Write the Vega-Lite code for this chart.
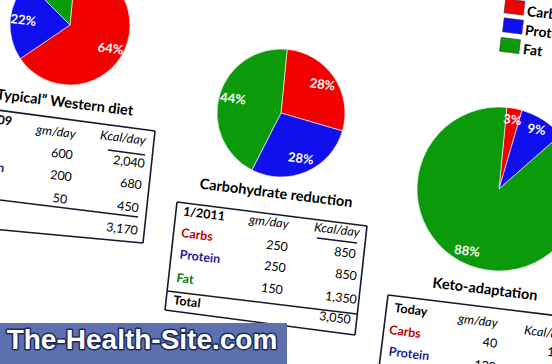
{
  "$schema": "https://vega.github.io/schema/vega-lite/v6.json",
  "width": 552,
  "height": 364,
  "autosize": {"type": "fit", "contains": "padding"},
  "padding": 0,
  "background": "#ffffff",
  "config": {"view": {"stroke": null}, "font": "Lato"},
  "resolve": {"scale": {"color": "independent"}},
  "datasets": {
    "pies": [
      {"diet": "Western", "macro": "Carbs", "pct": 64, "order": 1, "label": "64%"},
      {"diet": "Western", "macro": "Protein", "pct": 22, "order": 2, "label": "22%"},
      {"diet": "Western", "macro": "Fat", "pct": 14, "order": 3, "label": "14%"},
      {"diet": "Reduction", "macro": "Carbs", "pct": 28, "order": 1, "label": "28%"},
      {"diet": "Reduction", "macro": "Protein", "pct": 28, "order": 2, "label": "28%"},
      {"diet": "Reduction", "macro": "Fat", "pct": 44, "order": 3, "label": "44%"},
      {"diet": "Keto", "macro": "Carbs", "pct": 3, "order": 1, "label": "3%"},
      {"diet": "Keto", "macro": "Protein", "pct": 9, "order": 2, "label": "9%"},
      {"diet": "Keto", "macro": "Fat", "pct": 88, "order": 3, "label": "88%"}
    ],
    "cells": [
      {"table": "Western", "kind": "head", "text": "1/2009", "x": -9, "y": 119},
      {"table": "Western", "kind": "unit", "text": "gm/day", "x": 56, "y": 132},
      {"table": "Western", "kind": "unit", "text": "Kcal/day", "x": 123, "y": 138},
      {"table": "Western", "kind": "label", "macro": "Carbs", "text": "Carbs", "x": -22, "y": 146},
      {"table": "Western", "kind": "num", "text": "600", "x": 62, "y": 154},
      {"table": "Western", "kind": "num", "text": "2,040", "x": 129, "y": 162},
      {"table": "Western", "kind": "label", "macro": "Protein", "text": "Protein", "x": -16, "y": 166},
      {"table": "Western", "kind": "num", "text": "200", "x": 61, "y": 176},
      {"table": "Western", "kind": "num", "text": "680", "x": 131, "y": 184},
      {"table": "Western", "kind": "label", "macro": "Fat", "text": "Fat", "x": -25, "y": 188},
      {"table": "Western", "kind": "num", "text": "50", "x": 60, "y": 199},
      {"table": "Western", "kind": "num", "text": "450", "x": 128, "y": 207},
      {"table": "Western", "kind": "head", "text": "Total", "x": -30, "y": 211},
      {"table": "Western", "kind": "num", "text": "3,170", "x": 122, "y": 229},
      {"table": "Reduction", "kind": "head", "text": "1/2011", "x": 204, "y": 214},
      {"table": "Reduction", "kind": "unit", "text": "gm/day", "x": 269, "y": 222},
      {"table": "Reduction", "kind": "unit", "text": "Kcal/day", "x": 337, "y": 230},
      {"table": "Reduction", "kind": "label", "macro": "Carbs", "text": "Carbs", "x": 197, "y": 235},
      {"table": "Reduction", "kind": "num", "text": "250", "x": 277, "y": 246},
      {"table": "Reduction", "kind": "num", "text": "850", "x": 345, "y": 253},
      {"table": "Reduction", "kind": "label", "macro": "Protein", "text": "Protein", "x": 200, "y": 257},
      {"table": "Reduction", "kind": "num", "text": "250", "x": 275, "y": 267},
      {"table": "Reduction", "kind": "num", "text": "850", "x": 346, "y": 275},
      {"table": "Reduction", "kind": "label", "macro": "Fat", "text": "Fat", "x": 185, "y": 279},
      {"table": "Reduction", "kind": "num", "text": "150", "x": 272, "y": 289},
      {"table": "Reduction", "kind": "num", "text": "1,350", "x": 341, "y": 298},
      {"table": "Reduction", "kind": "head", "text": "Total", "x": 187, "y": 302},
      {"table": "Reduction", "kind": "num", "text": "3,050", "x": 335, "y": 318},
      {"table": "Keto", "kind": "head", "text": "Today", "x": 411, "y": 310},
      {"table": "Keto", "kind": "unit", "text": "gm/day", "x": 478, "y": 321},
      {"table": "Keto", "kind": "unit", "text": "Kcal/day", "x": 547, "y": 333},
      {"table": "Keto", "kind": "label", "macro": "Carbs", "text": "Carbs", "x": 405, "y": 332},
      {"table": "Keto", "kind": "num", "text": "40", "x": 490, "y": 343},
      {"table": "Keto", "kind": "num", "text": "136", "x": 558, "y": 353},
      {"table": "Keto", "kind": "label", "macro": "Protein", "text": "Protein", "x": 409, "y": 354},
      {"table": "Keto", "kind": "num", "text": "120", "x": 485, "y": 366},
      {"table": "Keto", "kind": "num", "text": "408", "x": 555, "y": 375}
    ],
    "lines": [
      {"table": "Western", "x": -40, "y": 105, "x2": 155, "y2": 131},
      {"table": "Western", "x": 155, "y": 131, "x2": 143, "y2": 243},
      {"table": "Western", "x": -40, "y": 226, "x2": 143, "y2": 243},
      {"table": "Western", "x": -40, "y": 195, "x2": 138, "y2": 217},
      {"table": "Western", "x": 108, "y": 150, "x2": 145, "y2": 155},
      {"table": "Reduction", "x": 177, "y": 202, "x2": 367, "y2": 226},
      {"table": "Reduction", "x": 367, "y": 226, "x2": 355, "y2": 335},
      {"table": "Reduction", "x": 165, "y": 310, "x2": 355, "y2": 335},
      {"table": "Reduction", "x": 177, "y": 202, "x2": 165, "y2": 310},
      {"table": "Reduction", "x": 167, "y": 291, "x2": 357, "y2": 314},
      {"table": "Reduction", "x": 317, "y": 238, "x2": 357, "y2": 243},
      {"table": "Keto", "x": 388, "y": 295, "x2": 575, "y2": 318},
      {"table": "Keto", "x": 388, "y": 295, "x2": 375, "y2": 400}
    ],
    "titles": [
      {"text": "“Typical” Western diet", "x": 62, "y": 103},
      {"text": "Carbohydrate reduction", "x": 276, "y": 194},
      {"text": "Keto-adaptation", "x": 485, "y": 290}
    ],
    "legend": [
      {"macro": "Carbs", "bx": 514.5, "by": 7, "lx": 527, "ly": 12},
      {"macro": "Protein", "bx": 513, "by": 26, "lx": 525, "ly": 31},
      {"macro": "Fat", "bx": 510, "by": 45.5, "lx": 523, "ly": 50}
    ],
    "site": [
      {"name": "The-Health-Site.com", "x": 0, "x2": 287, "y": 323, "y2": 364, "tx": 142, "ty": 349}
    ]
  },
  "layer": [
    {
      "data": {"name": "pies"},
      "transform": [
        {"filter": "datum.diet === 'Western'"},
        {"stack": "pct", "groupby": ["diet"], "sort": [{"field": "order", "order": "ascending"}], "as": ["t0", "t1"]}
      ],
      "mark": {"type": "arc", "outerRadius": 60, "stroke": "#ffffff", "strokeWidth": 0.6, "clip": true},
      "encoding": {
        "x": {"datum": 70, "type": "quantitative", "scale": {"domain": [0, 552], "nice": false, "zero": false}, "axis": null},
        "y": {"datum": 25, "type": "quantitative", "scale": {"domain": [0, 364], "nice": false, "zero": false, "reverse": true}, "axis": null},
        "theta": {"field": "t0", "type": "quantitative", "scale": {"type": "linear", "domain": [0, 100], "range": [0.096, 6.379], "nice": false, "zero": false}},
        "theta2": {"field": "t1"},
        "color": {"field": "macro", "type": "nominal", "scale": {"domain": ["Carbs", "Protein", "Fat"], "range": ["#f20000", "#1010ee", "#0a9a0a"]}, "legend": null}
      }
    },
    {
      "data": {"name": "pies"},
      "transform": [
        {"filter": "datum.diet === 'Reduction'"},
        {"stack": "pct", "groupby": ["diet"], "sort": [{"field": "order", "order": "ascending"}], "as": ["t0", "t1"]}
      ],
      "mark": {"type": "arc", "outerRadius": 64, "stroke": "#ffffff", "strokeWidth": 0.6, "clip": true},
      "encoding": {
        "x": {"datum": 281, "type": "quantitative", "axis": null},
        "y": {"datum": 113, "type": "quantitative", "axis": null},
        "theta": {"field": "t0", "type": "quantitative"},
        "theta2": {"field": "t1"},
        "color": {"field": "macro", "type": "nominal", "scale": {"domain": ["Carbs", "Protein", "Fat"], "range": ["#f20000", "#1010ee", "#0a9a0a"]}, "legend": null}
      }
    },
    {
      "data": {"name": "pies"},
      "transform": [
        {"filter": "datum.diet === 'Keto'"},
        {"stack": "pct", "groupby": ["diet"], "sort": [{"field": "order", "order": "ascending"}], "as": ["t0", "t1"]}
      ],
      "mark": {"type": "arc", "outerRadius": 82, "stroke": "#ffffff", "strokeWidth": 0.6, "clip": true},
      "encoding": {
        "x": {"datum": 499, "type": "quantitative", "axis": null},
        "y": {"datum": 189, "type": "quantitative", "axis": null},
        "theta": {"field": "t0", "type": "quantitative"},
        "theta2": {"field": "t1"},
        "color": {"field": "macro", "type": "nominal", "scale": {"domain": ["Carbs", "Protein", "Fat"], "range": ["#f20000", "#1010ee", "#0a9a0a"]}, "legend": null}
      }
    },
    {
      "data": {"name": "pies"},
      "transform": [
        {"filter": "datum.diet === 'Western'"},
        {"stack": "pct", "groupby": ["diet"], "sort": [{"field": "order", "order": "ascending"}], "as": ["t0", "t1"]},
        {"calculate": "(datum.t0 + datum.t1) / 2", "as": "mid"}
      ],
      "mark": {"type": "text", "radius": 47, "angle": 7, "fontWeight": "bold", "fontSize": 13, "fill": "#ffffff", "align": "center", "baseline": "middle", "clip": true},
      "encoding": {
        "x": {"datum": 70, "type": "quantitative", "axis": null},
        "y": {"datum": 25, "type": "quantitative", "axis": null},
        "theta": {"field": "mid", "type": "quantitative"},
        "text": {"field": "label"}
      }
    },
    {
      "data": {"name": "pies"},
      "transform": [
        {"filter": "datum.diet === 'Reduction'"},
        {"stack": "pct", "groupby": ["diet"], "sort": [{"field": "order", "order": "ascending"}], "as": ["t0", "t1"]},
        {"calculate": "(datum.t0 + datum.t1) / 2", "as": "mid"}
      ],
      "mark": {"type": "text", "radius": 50, "angle": 7, "fontWeight": "bold", "fontSize": 13, "fill": "#ffffff", "align": "center", "baseline": "middle", "clip": true},
      "encoding": {
        "x": {"datum": 281, "type": "quantitative", "axis": null},
        "y": {"datum": 113, "type": "quantitative", "axis": null},
        "theta": {"field": "mid", "type": "quantitative"},
        "text": {"field": "label"}
      }
    },
    {
      "data": {"name": "pies"},
      "transform": [
        {"filter": "datum.diet === 'Keto'"},
        {"stack": "pct", "groupby": ["diet"], "sort": [{"field": "order", "order": "ascending"}], "as": ["t0", "t1"]},
        {"calculate": "(datum.t0 + datum.t1) / 2", "as": "mid"}
      ],
      "mark": {"type": "text", "radius": 70, "angle": 7, "fontWeight": "bold", "fontSize": 13, "fill": "#ffffff", "align": "center", "baseline": "middle", "clip": true},
      "encoding": {
        "x": {"datum": 499, "type": "quantitative", "axis": null},
        "y": {"datum": 189, "type": "quantitative", "axis": null},
        "theta": {"field": "mid", "type": "quantitative"},
        "text": {"field": "label"}
      }
    },
    {
      "data": {"name": "lines"},
      "mark": {"type": "rule", "stroke": "#16162e", "strokeWidth": 1.6, "clip": true},
      "encoding": {
        "x": {"field": "x", "type": "quantitative", "axis": null},
        "y": {"field": "y", "type": "quantitative", "axis": null},
        "x2": {"field": "x2"},
        "y2": {"field": "y2"}
      }
    },
    {
      "data": {"name": "titles"},
      "mark": {"type": "text", "angle": 7, "fontWeight": "bold", "fontSize": 14.5, "fill": "#000000", "align": "center", "baseline": "middle", "clip": true},
      "encoding": {
        "x": {"field": "x", "type": "quantitative", "axis": null},
        "y": {"field": "y", "type": "quantitative", "axis": null},
        "text": {"field": "text"}
      }
    },
    {
      "data": {"name": "cells"},
      "transform": [{"filter": "datum.kind === 'label'"}],
      "mark": {"type": "text", "angle": 7, "fontWeight": "bold", "fontSize": 12.5, "align": "center", "baseline": "middle", "clip": true},
      "encoding": {
        "x": {"field": "x", "type": "quantitative", "axis": null},
        "y": {"field": "y", "type": "quantitative", "axis": null},
        "text": {"field": "text"},
        "color": {"field": "macro", "type": "nominal", "scale": {"domain": ["Carbs", "Protein", "Fat"], "range": ["#c00000", "#1e1e92", "#127a12"]}, "legend": null}
      }
    },
    {
      "data": {"name": "cells"},
      "transform": [{"filter": "datum.kind === 'head'"}],
      "mark": {"type": "text", "angle": 7, "fontWeight": "bold", "fontSize": 12.5, "fill": "#000000", "align": "center", "baseline": "middle", "clip": true},
      "encoding": {
        "x": {"field": "x", "type": "quantitative", "axis": null},
        "y": {"field": "y", "type": "quantitative", "axis": null},
        "text": {"field": "text"}
      }
    },
    {
      "data": {"name": "cells"},
      "transform": [{"filter": "datum.kind === 'unit'"}],
      "mark": {"type": "text", "angle": 7, "fontStyle": "italic", "fontSize": 12.5, "fill": "#000000", "align": "center", "baseline": "middle", "clip": true},
      "encoding": {
        "x": {"field": "x", "type": "quantitative", "axis": null},
        "y": {"field": "y", "type": "quantitative", "axis": null},
        "text": {"field": "text"}
      }
    },
    {
      "data": {"name": "cells"},
      "transform": [{"filter": "datum.kind === 'num'"}],
      "mark": {"type": "text", "angle": 7, "fontSize": 12.5, "fill": "#000000", "align": "center", "baseline": "middle", "clip": true},
      "encoding": {
        "x": {"field": "x", "type": "quantitative", "axis": null},
        "y": {"field": "y", "type": "quantitative", "axis": null},
        "text": {"field": "text"}
      }
    },
    {
      "data": {"name": "legend"},
      "mark": {"type": "point", "shape": "M-1,-0.72L1,-0.72L1,0.72L-1,0.72Z", "filled": true, "size": 380, "angle": 7, "opacity": 1, "stroke": "#333333", "strokeWidth": 0.5, "clip": true},
      "encoding": {
        "x": {"field": "bx", "type": "quantitative", "axis": null},
        "y": {"field": "by", "type": "quantitative", "axis": null},
        "color": {"field": "macro", "type": "nominal", "scale": {"domain": ["Carbs", "Protein", "Fat"], "range": ["#f20000", "#1010ee", "#0a9a0a"]}, "legend": null}
      }
    },
    {
      "data": {"name": "legend"},
      "mark": {"type": "text", "angle": 7, "fontWeight": "bold", "fontSize": 14, "fill": "#000000", "align": "left", "baseline": "middle", "clip": true},
      "encoding": {
        "x": {"field": "lx", "type": "quantitative", "axis": null},
        "y": {"field": "ly", "type": "quantitative", "axis": null},
        "text": {"field": "macro"}
      }
    },
    {
      "data": {"name": "site"},
      "mark": {"type": "rect", "fill": "#5c71ad", "clip": true},
      "encoding": {
        "x": {"field": "x", "type": "quantitative", "axis": null},
        "x2": {"field": "x2"},
        "y": {"field": "y", "type": "quantitative", "axis": null},
        "y2": {"field": "y2"}
      }
    },
    {
      "data": {"name": "site"},
      "mark": {"type": "text", "font": "Liberation Sans", "fontWeight": "bold", "fontSize": 28, "fill": "#1b2a5c", "stroke": "#1b2a5c", "strokeWidth": 3, "strokeJoin": "round", "align": "center", "baseline": "alphabetic", "clip": true},
      "encoding": {
        "x": {"field": "tx", "type": "quantitative", "axis": null},
        "y": {"field": "ty", "type": "quantitative", "axis": null},
        "text": {"field": "name"}
      }
    },
    {
      "data": {"name": "site"},
      "mark": {"type": "text", "font": "Liberation Sans", "fontWeight": "bold", "fontSize": 28, "fill": "#ffffff", "align": "center", "baseline": "alphabetic", "clip": true},
      "encoding": {
        "x": {"field": "tx", "type": "quantitative", "axis": null},
        "y": {"field": "ty", "type": "quantitative", "axis": null},
        "text": {"field": "name"}
      }
    }
  ]
}
